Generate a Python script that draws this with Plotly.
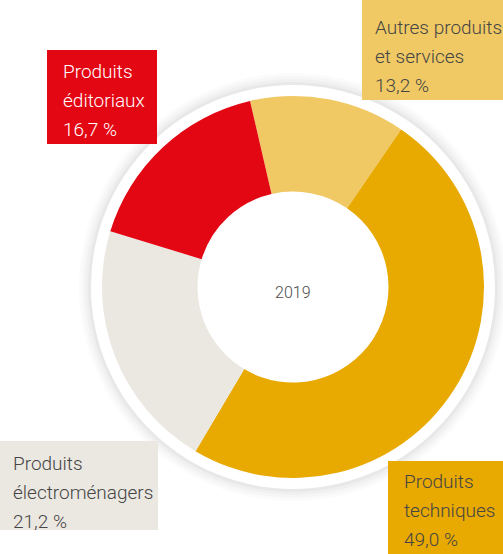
import plotly.graph_objects as go

# data
labels = ['Autres produits et services', 'Produits techniques',
          'Produits électroménagers', 'Produits éditoriaux']
values = [13.2, 49.0, 21.2, 16.7]
colors = ['#f0c964', '#e8a900', '#ebe7e1', '#e30613']
label_lines = [
    ['Autres produits', 'et services', '13,2 %'],
    ['Produits', 'techniques', '49,0 %'],
    ['Produits', 'électroménagers', '21,2 %'],
    ['Produits', 'éditoriaux', '16,7 %'],
]
center_text = '2019'

W, H = 503, 554
cx, cy, R = 293, 287, 191   # donut centre / radius in image pixels (y down)

def py(y):
    # image y (down) -> axis y (up)
    return H - y

fig = go.Figure()

fig.add_trace(go.Pie(
    labels=labels, values=values,
    marker=dict(colors=colors, line=dict(width=0)),
    hole=0.5, sort=False, direction='clockwise', rotation=-13,
    textinfo='none', hoverinfo='label+percent', showlegend=False,
    domain=dict(x=[(cx - R) / W, (cx + R) / W],
                y=[(py(cy) - R) / H, (py(cy) + R) / H]),
))

shapes = []
# soft shadow around the white ring
for r, a in [(214, 0.015), (211, 0.02), (208, 0.025), (205, 0.03)]:
    shapes.append(dict(type='circle', xref='x', yref='y', layer='below',
                       x0=cx - r, x1=cx + r, y0=py(cy) - r, y1=py(cy) + r,
                       fillcolor=f'rgba(0,0,0,{a})', line=dict(width=0)))
shapes.append(dict(type='circle', xref='x', yref='y', layer='below',
                   x0=cx - 202, x1=cx + 202, y0=py(cy) - 202, y1=py(cy) + 202,
                   fillcolor='white', line=dict(width=0)))

# label boxes: (x0, y0, x1, y1) in image pixels, text left, first line centre, text colour
boxes = [
    ((362, 0, 503, 100), 373, 27, '#454545'),
    ((388, 461, 503, 554), 402, 481, '#454545'),
    ((0, 441, 158, 530), 11, 463, '#454545'),
    ((47, 50, 157, 144), 61, 71, 'white'),
]

annotations = []
for (bx, tx, ty, tc), col, lines in zip(boxes, colors, label_lines):
    x0, y0, x1, y1 = bx
    shapes.append(dict(type='rect', xref='x', yref='y', layer='above',
                       x0=x0, x1=x1, y0=py(y1), y1=py(y0),
                       fillcolor=col, line=dict(width=0)))
    for i, line in enumerate(lines):
        annotations.append(dict(
            x=tx, y=py(ty + 29 * i), xref='x', yref='y',
            text=line, showarrow=False, xanchor='left', yanchor='middle',
            font=dict(family='Roboto', size=19, color=tc, weight=300)))

annotations.append(dict(x=cx, y=py(292), xref='x', yref='y', text=center_text,
                        showarrow=False, xanchor='center', yanchor='middle',
                        font=dict(family='Roboto', size=16, color='#4a4a4a', weight=300)))

fig.update_layout(
    width=W, height=H,
    margin=dict(l=0, r=0, t=0, b=0),
    paper_bgcolor='white', plot_bgcolor='rgba(0,0,0,0)',
    xaxis=dict(range=[0, W], visible=False, fixedrange=True),
    yaxis=dict(range=[0, H], visible=False, fixedrange=True),
    shapes=shapes, annotations=annotations,
)

# the page body has a default 8px margin; drop it so the figure sits at the corner
fig.write_html('out.html', config={'displayModeBar': False},
               post_script="document.body.style.margin='0';")
